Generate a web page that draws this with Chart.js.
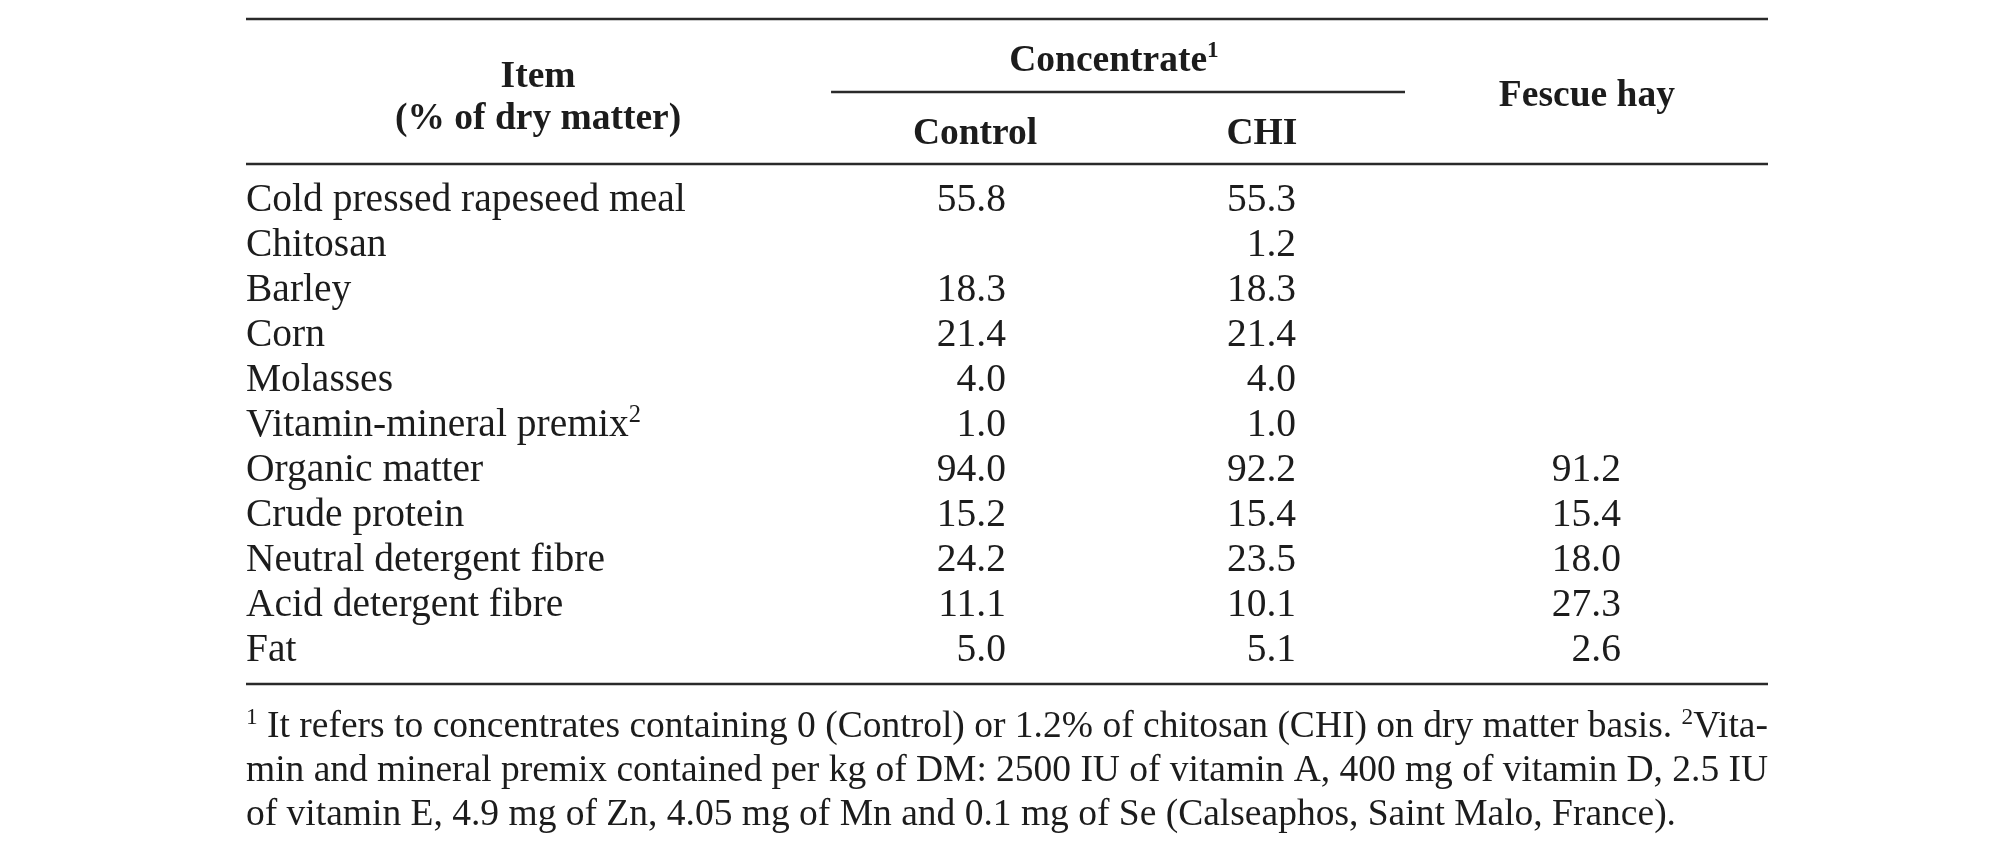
<!DOCTYPE html>
<html>
<head>
<meta charset="utf-8">
<script src="https://cdn.jsdelivr.net/npm/chart.js@4.4.0/dist/chart.umd.min.js"></script>
<style>
  html, body { margin: 0; padding: 0; background: #ffffff; }
  #wrap { width: 2012px; height: 851px; position: relative; }
</style>
</head>
<body>
<div id="wrap"><canvas id="c"></canvas></div>
<script>
// ---------------- data ----------------
const items = [
  'Cold pressed rapeseed meal', 'Chitosan', 'Barley', 'Corn', 'Molasses',
  'Vitamin-mineral premix²', 'Organic matter', 'Crude protein',
  'Neutral detergent fibre', 'Acid detergent fibre', 'Fat'
];
const controlValues = [55.8, null, 18.3, 21.4, 4.0, 1.0, 94.0, 15.2, 24.2, 11.1, 5.0];
const chiValues     = [55.3, 1.2, 18.3, 21.4, 4.0, 1.0, 92.2, 15.4, 23.5, 10.1, 5.1];
const fescueValues  = [null, null, null, null, null, null, 91.2, 15.4, 18.0, 27.3, 2.6];
const columnLabels  = ['Control', 'CHI', 'Fescue hay'];
const groupLabel    = 'Concentrate¹';
const itemHeader    = ['Item', '(% of dry matter)'];
const footnoteLines = [
  '¹ It refers to concentrates containing 0 (Control) or 1.2% of chitosan (CHI) on dry matter basis. ²Vita-',
  'min and mineral premix contained per kg of DM: 2500 IU of vitamin A, 400 mg of vitamin D, 2.5 IU',
  'of vitamin E, 4.9 mg of Zn, 4.05 mg of Mn and 0.1 mg of Se (Calseaphos, Saint Malo, France).'
];
const seriesValues = [controlValues, chiValues, fescueValues];

// ---------------- layout / style ----------------
const TEXT = '#1c1c1c';
const RULE = '#2a2a2a';
const SERIF = '"Liberation Serif", "Times New Roman", serif';
const BODY = 39.5, HEAD = 37.5, NOTE = 37.5;
// horizontal positions as fractions of the table width (x scale 0..1)
const layoutX = {
  itemCenter: 0.1919,
  colHeadCenter: [0.479, 0.6675, 0.881],
  colRight: [0.4993, 0.6899, 0.9034],
  groupCenter: 0.5703,
  groupSpan: [0.3844, 0.7615]
};
// vertical offsets relative to the chart area
const layoutY = {
  topRule: -156.5, groupBase: -105, subRule: -83.5, colHeadBase: -32,
  itemBase1: -89, itemBase2: -47, fescueBase: -69.5, headRule: -11.5,
  rowBase: 13, bottomRule: 13.5, noteBase: [66.5, 110.5, 154]
};

// ---------------- rich text helpers ----------------
function tokens(str) {
  const supMap = { '¹': '1', '²': '2', '³': '3' };
  const segs = [];
  for (const ch of str) {
    const sup = ch in supMap;
    const t = sup ? supMap[ch] : ch;
    const last = segs[segs.length - 1];
    if (last && last.sup === sup) last.t += t; else segs.push({ t, sup });
  }
  return segs;
}
function font(size, bold) { return (bold ? 'bold ' : '') + size + 'px ' + SERIF; }
function richWidth(ctx, str, size, bold) {
  let w = 0;
  for (const s of tokens(str)) {
    ctx.font = font(s.sup ? size * 0.62 : size, bold);
    w += ctx.measureText(s.t).width;
  }
  return w;
}
function drawRich(ctx, str, x, y, size, bold, align) {
  const w = richWidth(ctx, str, size, bold);
  let cx = align === 'center' ? x - w / 2 : align === 'right' ? x - w : x;
  ctx.textAlign = 'left';
  ctx.textBaseline = 'alphabetic';
  for (const s of tokens(str)) {
    const sz = s.sup ? size * 0.62 : size;
    ctx.font = font(sz, bold);
    ctx.fillText(s.t, cx, s.sup ? y - size * 0.36 : y);
    cx += ctx.measureText(s.t).width;
  }
}
function drawJustified(ctx, str, left, right, y, size, justify) {
  const words = str.split(' ');
  const widths = words.map(w => richWidth(ctx, w, size, false));
  ctx.font = font(size, false);
  const space = ctx.measureText(' ').width;
  let gap = space;
  if (justify && words.length > 1) {
    const total = widths.reduce((a, b) => a + b, 0);
    gap = (right - left - total) / (words.length - 1);
  }
  let x = left;
  words.forEach((w, i) => { drawRich(ctx, w, x, y, size, false, 'left'); x += widths[i] + gap; });
}

// ---------------- table plugin ----------------
const tablePlugin = {
  id: 'tablePlugin',
  afterDatasetsDraw(chart) {
    const { ctx, chartArea: ca, scales: { x: xs, y: ys } } = chart;
    const X = f => xs.getPixelForValue(f);
    const left = X(0), right = X(1);
    ctx.save();
    ctx.fillStyle = TEXT;
    ctx.strokeStyle = RULE;
    ctx.lineWidth = 2.6;
    const hline = (y, a, b) => { ctx.beginPath(); ctx.moveTo(a, y); ctx.lineTo(b, y); ctx.stroke(); };
    // rules
    hline(ca.top + layoutY.topRule, left, right);
    hline(ca.top + layoutY.subRule, X(layoutX.groupSpan[0]), X(layoutX.groupSpan[1]));
    hline(ca.top + layoutY.headRule, left, right);
    hline(ca.bottom + layoutY.bottomRule, left, right);
    // header
    drawRich(ctx, itemHeader[0], X(layoutX.itemCenter), ca.top + layoutY.itemBase1, HEAD, true, 'center');
    drawRich(ctx, itemHeader[1], X(layoutX.itemCenter), ca.top + layoutY.itemBase2, HEAD, true, 'center');
    drawRich(ctx, groupLabel, X(layoutX.groupCenter), ca.top + layoutY.groupBase, HEAD, true, 'center');
    drawRich(ctx, columnLabels[0], X(layoutX.colHeadCenter[0]), ca.top + layoutY.colHeadBase, HEAD, true, 'center');
    drawRich(ctx, columnLabels[1], X(layoutX.colHeadCenter[1]), ca.top + layoutY.colHeadBase, HEAD, true, 'center');
    drawRich(ctx, columnLabels[2], X(layoutX.colHeadCenter[2]), ca.top + layoutY.fescueBase, HEAD, true, 'center');
    // row labels through the category scale
    items.forEach((it, i) => {
      drawRich(ctx, it, left, ys.getPixelForValue(i) + layoutY.rowBase, BODY, false, 'left');
    });
    // cell values at the points placed by the scales
    chart.data.datasets.forEach((ds, di) => {
      const meta = chart.getDatasetMeta(di);
      meta.data.forEach((el, j) => {
        const v = ds.data[j].v;
        drawRich(ctx, v.toFixed(1), el.x, el.y + layoutY.rowBase, BODY, false, 'right');
      });
    });
    // footnote
    footnoteLines.forEach((ln, i) => {
      drawJustified(ctx, ln, left, right, ca.bottom + layoutY.noteBase[i], NOTE, i < footnoteLines.length - 1);
    });
    ctx.restore();
  }
};

const datasets = columnLabels.map((name, c) => ({
  label: name,
  data: items
    .map((it, i) => ({ x: layoutX.colRight[c], y: it, v: seriesValues[c][i] }))
    .filter(d => d.v !== null),
  pointRadius: 0,
  pointHoverRadius: 0,
  showLine: false
}));

new Chart(document.getElementById('c'), {
  type: 'scatter',
  data: { datasets },
  options: {
    responsive: true,
    maintainAspectRatio: false,
    animation: false,
    events: [],
    layout: { padding: { left: 246, right: 244, top: 175.5, bottom: 180.5 } },
    plugins: { legend: { display: false }, tooltip: { enabled: false }, title: { display: false } },
    scales: {
      x: { type: 'linear', min: 0, max: 1, display: false },
      y: { type: 'category', labels: items, offset: true, display: false }
    }
  },
  plugins: [tablePlugin]
});
</script>
</body>
</html>
